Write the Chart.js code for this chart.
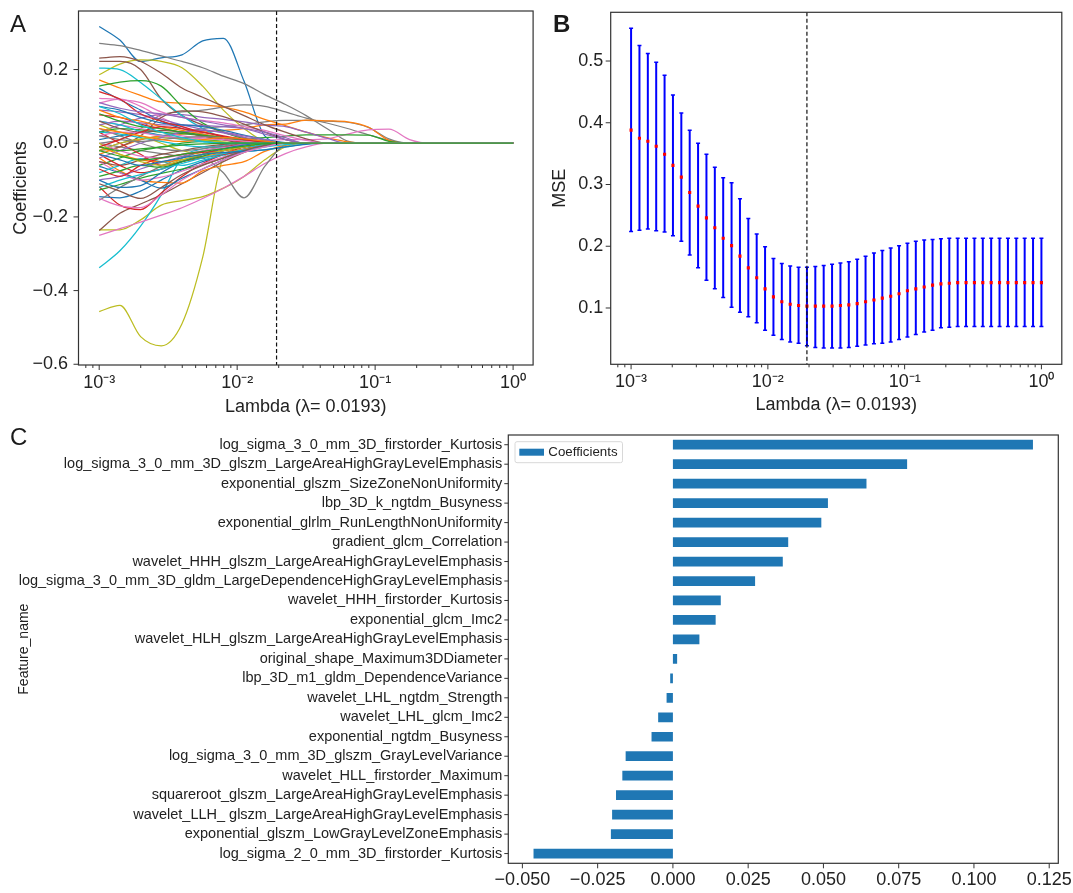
<!DOCTYPE html>
<html>
<head>
<meta charset="utf-8">
<script src="https://cdn.jsdelivr.net/npm/chart.js@4.4.0/dist/chart.umd.min.js"></script>
<style>
html,body{margin:0;padding:0;background:#fff;}
body{width:1073px;height:893px;position:relative;overflow:hidden;font-family:"Liberation Sans",Arial,sans-serif;}
canvas{position:absolute;display:block;}
.plbl{position:absolute;font-size:24px;line-height:24px;color:#1a1a1a;}
</style>
</head>
<body>
<canvas id="cA" width="540" height="420" style="left:0;top:0"></canvas>
<canvas id="cB" width="533" height="420" style="left:540px;top:0"></canvas>
<canvas id="cC" width="1073" height="473" style="left:0;top:420px"></canvas>
<div class="plbl" style="left:10px;top:12px">A</div>
<div class="plbl" style="left:553px;top:12px;font-weight:bold">B</div>
<div class="plbl" style="left:10px;top:425px">C</div>
<script>
// ---------------- DATA ----------------
// Panel A: LASSO coefficient paths
const pathLambdas = [0.001, 0.0014125, 0.0019953, 0.0028184, 0.0039811, 0.0056234, 0.0079433, 0.0112202, 0.0158489, 0.0223872, 0.0316228, 0.0446684, 0.0630957, 0.0891251, 0.1258925, 0.1778279, 0.2511886, 1.0];
const coefPaths = [
  [0.317,0.280,0.222,0.232,0.240,0.278,0.285,0.168,0.020,0,0,0,0,0,0,0,0,0],
  [0.271,0.265,0.252,0.237,0.222,0.205,0.182,0.162,0.132,0.105,0.075,0.040,0.006,0,0,0,0,0],
  [0.186,0.215,0.226,0.222,0.205,0.155,0.090,0.040,0.005,0,0,0,0,0,0,0,0,0],
  [-0.457,-0.440,-0.525,-0.550,-0.490,-0.310,-0.040,-0.010,0,0,0,0,0,0,0,0,0,0],
  [-0.235,-0.235,-0.208,-0.168,-0.156,-0.145,-0.122,-0.090,-0.045,-0.010,0,0,0,0,0,0,0,0],
  [-0.338,-0.292,-0.225,-0.140,-0.040,-0.015,-0.005,0,0,0,0,0,0,0,0,0,0,0],
  [-0.250,-0.232,-0.214,-0.195,-0.175,-0.150,-0.122,-0.090,-0.055,-0.028,-0.010,0,0,0,0,0,0,0],
  [-0.237,-0.190,-0.165,-0.140,-0.110,-0.080,-0.050,-0.025,-0.005,0,0,0,0,0,0,0,0,0],
  [-0.118,-0.168,-0.180,-0.135,-0.090,-0.055,-0.030,-0.010,0,0,0,0,0,0,0,0,0,0],
  [0,-0.010,-0.020,-0.028,-0.035,-0.040,-0.080,-0.148,-0.063,-0.005,0,0,0,0,0,0,0,0],
  [-0.020,0,0.010,0.020,0.030,0.040,0.045,0.050,0.058,0.062,0.062,0.060,0.057,0.043,0.012,0,0,0],
  [0,0.010,0.040,0.077,0.085,0.090,0.098,0.104,0.100,0.085,0.068,0.055,0.040,0.023,0.008,0,0,0],
  [-0.030,-0.010,0.010,0.020,0.025,0.030,0.035,0.040,0.050,0.052,0.063,0.061,0.058,0.044,0.008,0,0,0],
  [0.172,0.150,0.130,0.112,0.109,0.104,0.098,0.085,0.065,0.048,0.030,0.015,0.004,0,0,0,0,0],
  [0.060,0.050,0.040,0.030,0.020,0.015,0.010,0.008,0.008,0.010,0.010,0.012,0.025,0.036,0.038,0.010,0,0],
  [-0.060,-0.040,-0.020,-0.010,0,0.005,0.010,0.012,0.015,0.019,0.023,0.023,0.023,0.022,0.005,0,0,0],
  [0.030,0.050,0.068,0.078,0.078,0.070,0.065,0.058,0.049,0.045,0.030,0.014,0,0,0,0,0,0],
  [0.231,0.235,0.222,0.190,0.150,0.125,0.100,0.075,0.050,0.030,0.012,0,0,0,0,0,0,0],
  [0.222,0.222,0.200,0.120,0.075,0.050,0.030,0.015,0,0,0,0,0,0,0,0,0,0],
  [0.204,0.200,0.165,0.120,0.075,0.040,0.015,0.003,0,0,0,0,0,0,0,0,0,0],
  [0.155,0.166,0.170,0.155,0.100,0.055,0.030,0.012,0,0,0,0,0,0,0,0,0,0],
  [0.149,0.118,0.090,0.060,0.040,0.025,0.015,0.005,0,0,0,0,0,0,0,0,0,0],
  [0.122,0.118,0.110,0.085,0.070,0.062,0.055,0.045,0.035,0.020,0.008,0,0,0,0,0,0,0],
  [0.109,0.120,0.100,0.070,0.045,0.025,0.012,0.004,0,0,0,0,0,0,0,0,0,0],
  [0.090,0.085,0.078,0.065,0.050,0.038,0.028,0.016,0.006,0,0,0,0,0,0,0,0,0],
  [0.077,0.070,0.052,0.040,0.030,0.020,0.010,0.003,0,0,0,0,0,0,0,0,0,0],
  [-0.020,-0.010,0.020,0.070,0.088,0.085,0.072,0.052,0.030,0.010,0,0,0,0,0,0,0,0],
  [-0.145,-0.148,-0.130,-0.100,-0.072,-0.050,-0.030,-0.015,-0.004,0,0,0,0,0,0,0,0,0],
  [-0.127,-0.112,-0.095,-0.082,-0.070,-0.058,-0.040,-0.022,-0.006,0,0,0,0,0,0,0,0,0],
  [-0.040,-0.075,-0.100,-0.106,-0.108,-0.075,-0.060,-0.050,-0.022,-0.005,0,0,0,0,0,0,0,0],
  [-0.063,-0.080,-0.100,-0.122,-0.095,-0.070,-0.045,-0.022,-0.006,0,0,0,0,0,0,0,0,0],
  [-0.100,-0.090,-0.070,-0.052,-0.036,-0.022,-0.010,-0.003,0,0,0,0,0,0,0,0,0,0],
  [-0.050,-0.080,-0.100,-0.092,-0.076,-0.056,-0.037,-0.022,-0.010,0,0,0,0,0,0,0,0,0],
  [-0.080,-0.060,-0.042,-0.050,-0.060,-0.046,-0.032,-0.022,-0.018,-0.010,-0.002,0,0,0,0,0,0,0],
  [-0.155,-0.120,-0.090,-0.062,-0.040,-0.022,-0.010,0,0,0,0,0,0,0,0,0,0,0],
  [0.050,0.030,0.020,0,-0.020,-0.030,-0.020,-0.010,0,0,0,0,0,0,0,0,0,0],
  [-0.050,-0.060,-0.045,-0.030,-0.020,-0.010,-0.003,0,0,0,0,0,0,0,0,0,0,0],
  [0.030,0,-0.030,-0.060,-0.050,-0.030,-0.012,0,0,0,0,0,0,0,0,0,0,0],
  [0.030,0.040,0.036,0.030,0.026,0.021,0.016,0.011,0.005,0,0,0,0,0,0,0,0,0],
  [0.010,0.020,0.030,0.022,0.012,0.006,0.002,0,0,0,0,0,0,0,0,0,0,0],
  [0.060,0.050,0.032,0.020,0.010,0.004,0,0,0,0,0,0,0,0,0,0,0,0],
  [-0.010,-0.030,-0.045,-0.050,-0.045,-0.036,-0.026,-0.016,-0.006,0,0,0,0,0,0,0,0,0],
  [-0.030,-0.060,-0.080,-0.070,-0.050,-0.040,-0.030,-0.020,-0.008,0,0,0,0,0,0,0,0,0],
  [0.050,0.060,0.055,0.050,0.050,0.048,0.045,0.040,0.030,0.015,0,0,0,0,0,0,0,0],
  [0.030,0.025,0.015,0.005,-0.005,-0.010,-0.012,-0.010,-0.006,0,0,0,0,0,0,0,0,0],
  [0.040,0.020,0,-0.015,-0.020,-0.015,-0.008,0,0,0,0,0,0,0,0,0,0,0],
  [-0.020,0,0.012,0.015,0.012,0.008,0.004,0,0,0,0,0,0,0,0,0,0,0],
  [0,-0.020,-0.035,-0.040,-0.030,-0.020,-0.012,-0.005,0,0,0,0,0,0,0,0,0,0],
  [-0.100,-0.120,-0.115,-0.080,-0.050,-0.030,-0.015,-0.005,0,0,0,0,0,0,0,0,0,0],
  [-0.090,-0.075,-0.060,-0.065,-0.050,-0.035,-0.020,-0.010,0,0,0,0,0,0,0,0,0,0],
  [-0.070,-0.090,-0.060,-0.040,-0.030,-0.025,-0.020,-0.010,0,0,0,0,0,0,0,0,0,0],
  [0.060,0.040,0.030,0.035,0.030,0.020,0.010,0,0,0,0,0,0,0,0,0,0,0],
  [0.090,0.070,0.060,0.045,0.035,0.025,0.015,0.006,0,0,0,0,0,0,0,0,0,0],
  [0.100,0.090,0.070,0.055,0.050,0.045,0.035,0.022,0.010,0.002,0,0,0,0,0,0,0,0],
  [0.140,0.120,0.080,0.060,0.045,0.030,0.018,0.008,0,0,0,0,0,0,0,0,0,0],
  [-0.040,-0.020,0,0.015,0.030,0.035,0.030,0.020,0.010,0,0,0,0,0,0,0,0,0],
  [-0.120,-0.100,-0.085,-0.070,-0.055,-0.040,-0.028,-0.018,-0.010,-0.004,0,0,0,0,0,0,0,0],
  [0.080,0.060,0.045,0.040,0.030,0.022,0.015,0.008,0.003,0,0,0,0,0,0,0,0,0],
  [0.020,0.030,0.028,0.020,0.015,0.012,0.010,0.006,0.002,0,0,0,0,0,0,0,0,0],
  [-0.110,-0.130,-0.150,-0.120,-0.085,-0.060,-0.040,-0.020,-0.006,0,0,0,0,0,0,0,0,0],
  [0.020,0.010,0.005,0.010,0.015,0.018,0.015,0.010,0.004,0,0,0,0,0,0,0,0,0],
  [0,-0.030,-0.050,-0.060,-0.045,-0.030,-0.020,-0.010,0,0,0,0,0,0,0,0,0,0],
  [-0.010,0.010,0.030,0.045,0.040,0.030,0.020,0.010,0.003,0,0,0,0,0,0,0,0,0],
  [-0.030,-0.045,-0.060,-0.050,-0.040,-0.030,-0.025,-0.022,-0.018,-0.010,-0.003,0,0,0,0,0,0,0],
  [0.040,0.030,0.020,0.010,0.005,0.010,0.015,0.012,0.006,0,0,0,0,0,0,0,0,0],
  [0.110,0.095,0.085,0.080,0.070,0.060,0.050,0.040,0.025,0.010,0,0,0,0,0,0,0,0],
  [0.100,0.080,0.050,0.030,0.015,0.005,0,0,0,0,0,0,0,0,0,0,0,0],
  [-0.020,-0.035,-0.045,-0.040,-0.030,-0.022,-0.015,-0.008,-0.002,0,0,0,0,0,0,0,0,0],
  [-0.150,-0.170,-0.175,-0.140,-0.100,-0.070,-0.045,-0.025,-0.010,0,0,0,0,0,0,0,0,0],
  [-0.010,-0.020,-0.015,-0.010,-0.005,-0.002,0,0,0,0,0,0,0,0,0,0,0,0]
];
const pathColorNames = ['blue','gray','olive','olive','olive','cyan','pink','brown','red','gray','gray','gray','orange','orange','pink','green','purple','brown','brown','cyan','green','blue','pink','pink','purple','red','brown','blue','green','orange','blue','purple','pink','cyan','gray','olive','brown','red','green','blue','cyan','orange','red','purple','cyan','gray','olive','pink','blue','green','red','brown',
  'orange','blue','red','purple','cyan','green','pink','brown','gray','olive','red','blue','orange','purple','cyan','green','pink','green'];
const bestLambda = 0.0193;

// Panel B: cross-validated MSE
const cvLambdas = [0.001, 0.00115140, 0.00132571, 0.00152642, 0.00175751, 0.00202359, 0.00232995, 0.00268270, 0.00308884, 0.00355648, 0.00409492, 0.00471487, 0.00542868, 0.00625055, 0.00719686, 0.00828643, 0.00954095, 0.0109854, 0.0126486, 0.0145635, 0.0167683, 0.0193070, 0.0222300, 0.0255955, 0.0294705, 0.0339322, 0.0390694, 0.0449843, 0.0517947, 0.0596362, 0.0686649, 0.0790604, 0.0910298, 0.104811, 0.120679, 0.138950, 0.159986, 0.184207, 0.212095, 0.244205, 0.281177, 0.323746, 0.372759, 0.429193, 0.494171, 0.568987, 0.655129, 0.754312, 0.868511, 1.0];
const mseMean = [0.388,0.375,0.370,0.362,0.349,0.331,0.312,0.287,0.265,0.246,0.230,0.213,0.201,0.184,0.165,0.149,0.131,0.118,0.110,0.106,0.104,0.103,0.103,0.103,0.103,0.104,0.105,0.107,0.110,0.113,0.116,0.119,0.123,0.128,0.131,0.134,0.137,0.139,0.140,0.141,0.141,0.141,0.141,0.141,0.141,0.141,0.141,0.141,0.141,0.141];
const mseUpper = [0.553,0.525,0.512,0.498,0.477,0.445,0.416,0.388,0.367,0.349,0.328,0.311,0.303,0.277,0.245,0.220,0.199,0.180,0.172,0.168,0.166,0.166,0.167,0.169,0.171,0.173,0.175,0.179,0.184,0.189,0.193,0.197,0.201,0.205,0.208,0.210,0.211,0.212,0.213,0.213,0.213,0.213,0.213,0.213,0.213,0.213,0.213,0.213,0.213,0.213];
const mseLower = [0.224,0.226,0.228,0.225,0.223,0.217,0.208,0.186,0.165,0.145,0.131,0.117,0.101,0.093,0.086,0.076,0.064,0.056,0.049,0.045,0.043,0.039,0.036,0.035,0.035,0.035,0.036,0.038,0.040,0.042,0.043,0.045,0.049,0.053,0.057,0.061,0.064,0.068,0.069,0.070,0.070,0.070,0.070,0.070,0.070,0.070,0.070,0.070,0.070,0.070];

// Panel C: selected features
const featureNames = ['log_sigma_3_0_mm_3D_firstorder_Kurtosis','log_sigma_3_0_mm_3D_glszm_LargeAreaHighGrayLevelEmphasis','exponential_glszm_SizeZoneNonUniformity','lbp_3D_k_ngtdm_Busyness','exponential_glrlm_RunLengthNonUniformity','gradient_glcm_Correlation','wavelet_HHH_glszm_LargeAreaHighGrayLevelEmphasis','log_sigma_3_0_mm_3D_gldm_LargeDependenceHighGrayLevelEmphasis','wavelet_HHH_firstorder_Kurtosis','exponential_glcm_Imc2','wavelet_HLH_glszm_LargeAreaHighGrayLevelEmphasis','original_shape_Maximum3DDiameter','lbp_3D_m1_gldm_DependenceVariance','wavelet_LHL_ngtdm_Strength','wavelet_LHL_glcm_Imc2','exponential_ngtdm_Busyness','log_sigma_3_0_mm_3D_glszm_GrayLevelVariance','wavelet_HLL_firstorder_Maximum','squareroot_glszm_LargeAreaHighGrayLevelEmphasis','wavelet_LLH_ glszm_LargeAreaHighGrayLevelEmphasis','exponential_glszm_LowGrayLevelZoneEmphasis','log_sigma_2_0_mm_3D_firstorder_Kurtosis'];
const featureCoefs = [0.1196,0.0778,0.0643,0.0515,0.0493,0.0383,0.0365,0.0273,0.0159,0.0142,0.0088,0.0014,-0.0009,-0.0021,-0.0049,-0.0071,-0.0157,-0.0168,-0.0189,-0.0202,-0.0206,-0.0463];

// Tick values / labels
const logTickValues = [0.0008,0.0009,0.001,0.002,0.003,0.004,0.005,0.006,0.007,0.008,0.009,0.01,0.02,0.03,0.04,0.05,0.06,0.07,0.08,0.09,0.1,0.2,0.3,0.4,0.5,0.6,0.7,0.8,0.9,1];
const logMajorValues = [0.001, 0.01, 0.1, 1];
const logMajorLabels = ['10\u207B\u00B3', '10\u207B\u00B2', '10\u207B\u00B9', '10\u2070'];
const coefTicks = [-0.6, -0.4, -0.2, 0, 0.2];
const mseTicks = [0.1, 0.2, 0.3, 0.4, 0.5];
const barTicks = [-0.05, -0.025, 0, 0.025, 0.05, 0.075, 0.1, 0.125];

// ---------------- STYLE ----------------
const TAB = {blue:'#1f77b4', orange:'#ff7f0e', green:'#2ca02c', red:'#d62728', purple:'#9467bd', brown:'#8c564b', pink:'#e377c2', gray:'#7f7f7f', olive:'#bcbd22', cyan:'#17becf'};
const FONT = "'Liberation Sans', Arial, Helvetica, sans-serif";
const TXT = '#222';
Chart.defaults.font.family = FONT;
Chart.defaults.color = TXT;

function fmt(v, d) {
  const s = Math.abs(v).toFixed(d);
  return (v < -1e-12 ? '\u2212' : '') + s;
}
function logLabel(v) {
  for (let i = 0; i < logMajorValues.length; i++) {
    if (Math.abs(v - logMajorValues[i]) < logMajorValues[i] * 1e-6) return logMajorLabels[i];
  }
  return '';
}
function setTicks(vals) { return s => { s.ticks = vals.map(v => ({value: v})); }; }
function fixH(h) { return s => { s.height = h; s.paddingLeft = 0; s.paddingRight = 0; s.paddingTop = 0; s.paddingBottom = 0; }; }
function fixW(w) { return s => { s.width = w; s.paddingLeft = 0; s.paddingRight = 0; s.paddingTop = 0; s.paddingBottom = 0; }; }

const axisDeco = {
  id: 'axisDeco',
  afterDatasetsDraw(chart, args, o) {
    const ctx = chart.ctx, a = chart.chartArea;
    ctx.save();
    if (o.vline != null) {
      const x = chart.scales.x.getPixelForValue(o.vline);
      ctx.strokeStyle = '#111';
      ctx.lineWidth = 1.2;
      ctx.setLineDash([4, 2.5]);
      ctx.beginPath(); ctx.moveTo(x, a.top); ctx.lineTo(x, a.bottom); ctx.stroke();
      ctx.setLineDash([]);
    }
    ctx.strokeStyle = '#333';
    ctx.lineWidth = 1.2;
    ctx.strokeRect(a.left, a.top, a.right - a.left, a.bottom - a.top);
    ctx.lineWidth = 1;
    const xs = chart.scales.x, ys = chart.scales.y;
    xs.ticks.forEach((t, i) => {
      const px = xs.getPixelForTick(i);
      const len = (t.label !== '' && t.label != null) ? o.xMajor : o.xMinor;
      ctx.beginPath(); ctx.moveTo(px, a.bottom); ctx.lineTo(px, a.bottom + len); ctx.stroke();
    });
    ys.ticks.forEach((t, i) => {
      const py = ys.getPixelForTick(i);
      ctx.beginPath(); ctx.moveTo(a.left, py); ctx.lineTo(a.left - o.yLen, py); ctx.stroke();
    });
    ctx.restore();
  },
  afterDraw(chart, args, o) {
    if (!o.legendBox) return;
    const ctx = chart.ctx, a = chart.chartArea;
    const ds = chart.data.datasets[0];
    ctx.save();
    ctx.font = '13.3px ' + FONT;
    const tw = ctx.measureText(ds.label).width;
    const bx = a.left + 6.7, by = a.top + 6.7, bh = 21;
    const sw = 24.7, sh = 7;
    const bw = 4.3 + sw + 4.3 + tw + 5;
    ctx.fillStyle = 'rgba(255,255,255,0.85)';
    ctx.strokeStyle = '#d8d8d8';
    ctx.lineWidth = 1;
    ctx.beginPath();
    if (ctx.roundRect) ctx.roundRect(bx, by, bw, bh, 2); else ctx.rect(bx, by, bw, bh);
    ctx.fill();
    ctx.stroke();
    ctx.fillStyle = ds.backgroundColor;
    ctx.fillRect(bx + 4.3, by + (bh - sh) / 2, sw, sh);
    ctx.fillStyle = TXT;
    ctx.textBaseline = 'middle';
    ctx.textAlign = 'left';
    ctx.fillText(ds.label, bx + 4.3 + sw + 4.3, by + bh / 2 + 0.5);
    ctx.restore();
  }
};

const common = {responsive: false, animation: false, events: [], devicePixelRatio: 1};

// ---------------- PANEL A ----------------
new Chart(document.getElementById('cA'), {
  type: 'line',
  data: {
    datasets: coefPaths.map((vals, k) => ({
      data: pathLambdas.map((lam, i) => ({x: lam, y: vals[i]})),
      borderColor: TAB[pathColorNames[k]],
      borderWidth: 1.25,
      pointRadius: 0,
      fill: false,
      cubicInterpolationMode: 'monotone',
      order: coefPaths.length - k
    }))
  },
  options: Object.assign({}, common, {
    layout: {padding: {left: 0, top: 11, right: 6.9, bottom: 0}},
    plugins: {legend: {display: false}, tooltip: {enabled: false},
      axisDeco: {vline: bestLambda, xMajor: 5, xMinor: 3, yLen: 5}},
    scales: {
      x: {type: 'logarithmic', min: Math.pow(10, -3.15), max: Math.pow(10, 0.145),
        afterBuildTicks: setTicks(logTickValues), afterFit: fixH(55),
        grid: {display: false, drawTicks: true, tickLength: 5}, border: {display: false},
        ticks: {autoSkip: false, maxRotation: 0, padding: 2, font: {size: 18}, color: TXT, callback: v => logLabel(v)},
        title: {display: true, text: 'Lambda (\u03BB= 0.0193)', font: {size: 18}, color: TXT, padding: {top: 0, bottom: 2.5}}},
      y: {type: 'linear', min: -0.602, max: 0.359,
        afterBuildTicks: setTicks(coefTicks), afterFit: fixW(78.5),
        grid: {display: false, drawTicks: true, tickLength: 5}, border: {display: false},
        ticks: {padding: 5.5, font: {size: 18}, color: TXT, callback: v => fmt(v, 1)},
        title: {display: true, text: 'Coefficients', font: {size: 18}, color: TXT, padding: {top: 10, bottom: 0}}}
    }
  }),
  plugins: [axisDeco]
});

// ---------------- PANEL B ----------------
const barPts = [];
cvLambdas.forEach((lam, i) => {
  barPts.push({x: lam, y: mseLower[i]}, {x: lam, y: mseUpper[i]}, {x: lam, y: null});
});
const capPts = [];
cvLambdas.forEach((lam, i) => { capPts.push({x: lam, y: mseLower[i]}, {x: lam, y: mseUpper[i]}); });

new Chart(document.getElementById('cB'), {
  type: 'line',
  data: {
    datasets: [
      {data: cvLambdas.map((lam, i) => ({x: lam, y: mseMean[i]})), showLine: false,
        pointStyle: 'rect', pointRadius: 2.2, pointBackgroundColor: '#ff0000', pointBorderWidth: 0},
      {data: capPts, showLine: false, pointStyle: 'line', pointRadius: 2,
        pointBorderColor: '#0000ff', pointBorderWidth: 1.5},
      {data: barPts, borderColor: '#0000ff', borderWidth: 2, pointRadius: 0, spanGaps: false, fill: false}
    ]
  },
  options: Object.assign({}, common, {
    layout: {padding: {left: 0, top: 12.3, right: 11.2, bottom: 0}},
    plugins: {legend: {display: false}, tooltip: {enabled: false},
      axisDeco: {vline: bestLambda, xMajor: 5, xMinor: 3, yLen: 5}},
    scales: {
      x: {type: 'logarithmic', min: Math.pow(10, -3.149), max: Math.pow(10, 0.149),
        afterBuildTicks: setTicks(logTickValues), afterFit: fixH(55.7),
        grid: {display: false, drawTicks: true, tickLength: 5}, border: {display: false},
        ticks: {autoSkip: false, maxRotation: 0, padding: 2, font: {size: 18}, color: TXT, callback: v => logLabel(v)},
        title: {display: true, text: 'Lambda (\u03BB= 0.0193)', font: {size: 18}, color: TXT, padding: {top: 0, bottom: 4}}},
      y: {type: 'linear', min: 0.0088, max: 0.5789,
        afterBuildTicks: setTicks(mseTicks), afterFit: fixW(70.7),
        grid: {display: false, drawTicks: true, tickLength: 5}, border: {display: false},
        ticks: {padding: 2.5, font: {size: 18}, color: TXT, callback: v => fmt(v, 1)},
        title: {display: true, text: 'MSE', font: {size: 18}, color: TXT, padding: {top: 9.5, bottom: 0}}}
    }
  }),
  plugins: [axisDeco]
});

// ---------------- PANEL C ----------------
new Chart(document.getElementById('cC'), {
  type: 'bar',
  data: {
    labels: featureNames,
    datasets: [{label: 'Coefficients', data: featureCoefs, backgroundColor: '#1f77b4', borderWidth: 0,
      categoryPercentage: 1, barPercentage: 0.5}]
  },
  options: Object.assign({}, common, {
    indexAxis: 'y',
    layout: {padding: {left: 0, top: 15, right: 14.7, bottom: 0}},
    plugins: {
      tooltip: {enabled: false},
      legend: {display: false},
      axisDeco: {xMajor: 5, xMinor: 5, yLen: 4, legendBox: true}
    },
    scales: {
      x: {type: 'linear', min: -0.05468, max: 0.12802,
        afterBuildTicks: setTicks(barTicks), afterFit: fixH(29.7),
        grid: {display: false, drawTicks: true, tickLength: 5}, border: {display: false},
        ticks: {autoSkip: false, maxRotation: 0, padding: 1, font: {size: 18}, color: TXT, callback: v => fmt(v, 3)}},
      y: {type: 'category', offset: true, afterFit: fixW(508.3),
        grid: {display: false, drawTicks: true, tickLength: 4, offset: false}, border: {display: false},
        ticks: {autoSkip: false, padding: 2, font: {size: 14.5}, color: TXT},
        title: {display: true, text: 'Feature_name', font: {size: 14}, color: TXT, padding: {top: 15.6, bottom: 0}}}
    }
  }),
  plugins: [axisDeco]
});
</script>
</body>
</html>
